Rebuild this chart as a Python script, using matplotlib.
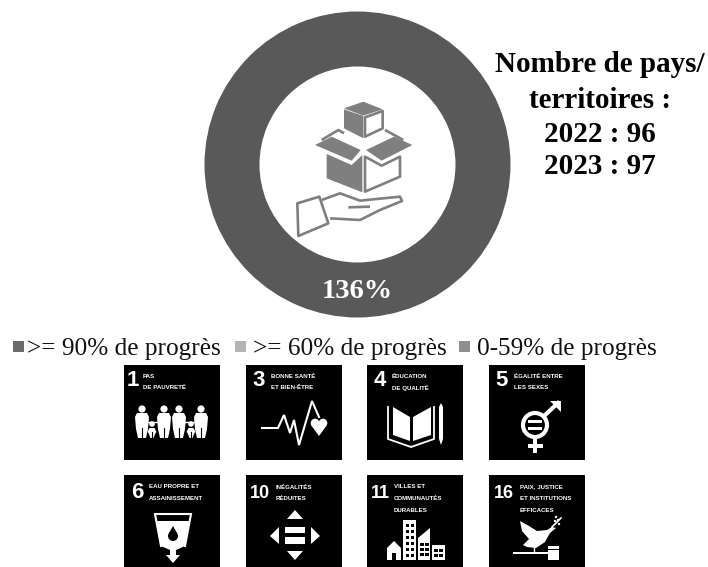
import matplotlib
matplotlib.use('Agg')
import matplotlib.pyplot as plt
from matplotlib.patches import Polygon, Rectangle, Circle

donut_values = [136]
donut_label = '136%'
side_lines = ['Nombre de pays/', 'territoires :', '2022 : 96', '2023 : 97']
legend_labels = ['>= 90% de progrès', '>= 60% de progrès', '0-59% de progrès']
legend_colors = ['#6b6b6b', '#b5b5b5', '#8f8f8f']
goal_numbers = ['1', '3', '4', '5', '6', '10', '11', '16']
goal_titles = [
    ['PAS', 'DE PAUVRETÉ'],
    ['BONNE SANTÉ', 'ET BIEN-ÊTRE'],
    ['ÉDUCATION', 'DE QUALITÉ'],
    ['ÉGALITÉ ENTRE', 'LES SEXES'],
    ['EAU PROPRE ET', 'ASSAINISSEMENT'],
    ['INÉGALITÉS', 'RÉDUITES'],
    ['VILLES ET', 'COMMUNAUTÉS', 'DURABLES'],
    ['PAIX, JUSTICE', 'ET INSTITUTIONS', 'EFFICACES'],
]

SERIF = 'Liberation Serif'
SANS = 'Liberation Sans'
DARK = '#595959'
ICON = '#7f7f7f'

fig = plt.figure(figsize=(7.08, 5.67), dpi=100)
ax = fig.add_axes([0, 0, 1, 1])


def z1(pts):
    return [(200 + x / 3, y / 3) for x, y in pts]


def shape(pts, fill=ICON):
    ax.add_patch(Polygon(z1(pts), closed=True, fc=fill, ec='none', zorder=4))


def outline(pts, closed=True):
    ax.add_patch(Polygon(z1(pts), closed=closed, fc='none', ec=ICON, lw=1.9, joinstyle='round', zorder=4))


def draw_box_icon():
    shape([(432, 325), (490, 305), (548, 328), (490, 347)])
    shape([(432, 328), (490, 348), (490, 415), (432, 385)])
    outline([(495, 352), (548, 333), (548, 385), (495, 410)])
    outline([(365, 420), (415, 390), (432, 400)], closed=False)
    outline([(555, 390), (610, 420)], closed=False)
    shape([(345, 435), (395, 410), (482, 450), (455, 482)])
    shape([(498, 450), (582, 410), (637, 435), (545, 482)])
    shape([(380, 462), (455, 495), (487, 465), (487, 577), (380, 535)])
    outline([(495, 470), (545, 497), (600, 470), (600, 530), (495, 575)])
    outline([(292, 610), (358, 590), (385, 670), (295, 708)])
    outline([(365, 600), (420, 580), (480, 602), (600, 590), (606, 603), (540, 630),
             (480, 660), (390, 655)], closed=False)
    outline([(445, 622), (510, 620)], closed=False)


def tile_poly(x0, y0, pts, fill='white', z=4):
    ax.add_patch(Polygon([(x0 + x, y0 + y) for x, y in pts], closed=True, fc=fill, ec='none', zorder=z))


def tile_rect(x0, y0, x, y, w, h, fill='white', z=4):
    ax.add_patch(Rectangle((x0 + x, y0 + y), w, h, fc=fill, ec='none', zorder=z))


def tile_line(x0, y0, pts, lw=1.5, color='white', z=4):
    ax.plot([x0 + x for x, y in pts], [y0 + y for x, y in pts], color=color, lw=lw, zorder=z,
            solid_joinstyle='miter')


def icon_people(x0, y0):
    for cx, head, w in [(18, 44, 14), (40, 44, 14), (55, 44, 14), (77, 44, 14), (28, 59, 9), (67, 59, 9)]:
        ax.add_patch(Circle((x0 + cx, y0 + head), 3.6 if w > 9 else 2.8, fc='white', ec='none', zorder=4))
        tile_poly(x0, y0, [(cx - w / 2 + 2, head + 4), (cx + w / 2 - 2, head + 4), (cx + w / 2, head + 8),
                           (cx + w / 2 - 1, 64 if w > 9 else 68), (cx + w / 2 - 3, 73), (cx - w / 2 + 3, 73),
                           (cx - w / 2 + 1, 64 if w > 9 else 68), (cx - w / 2, head + 8)])
        tile_line(x0, y0, [(cx, 63 if w > 9 else 67), (cx, 73)], lw=0.8, color='black', z=5)
    tile_line(x0, y0, [(23, 57), (35, 57)], lw=1)
    tile_line(x0, y0, [(60, 57), (72, 57)], lw=1)


def icon_health(x0, y0):
    tile_line(x0, y0, [(16, 63), (32, 63), (38, 50), (44, 68), (48, 55), (53, 80), (66, 36), (73, 52)], lw=1.5)
    ax.add_patch(Circle((x0 + 69, y0 + 58), 4.3, fc='white', ec='none', zorder=4))
    ax.add_patch(Circle((x0 + 77, y0 + 58), 4.3, fc='white', ec='none', zorder=4))
    tile_poly(x0, y0, [(65, 60), (81, 60), (73, 71)])


def icon_book(x0, y0):
    tile_poly(x0, y0, [(26, 42), (43, 52), (43, 76), (26, 70)])
    tile_poly(x0, y0, [(46, 52), (64, 42), (64, 70), (46, 76)])
    tile_line(x0, y0, [(21, 42), (21, 74), (44, 82), (67, 74), (67, 42)], lw=1.3)
    tile_poly(x0, y0, [(72, 42), (74, 38), (76, 42), (76, 74), (74, 80), (72, 74)])


def icon_gender(x0, y0):
    ax.add_patch(Circle((x0 + 46, y0 + 60), 12, fc='none', ec='white', lw=3, zorder=4))
    tile_rect(x0, y0, 39, 55, 14, 3)
    tile_rect(x0, y0, 39, 62, 14, 3)
    tile_rect(x0, y0, 44, 72, 4, 16)
    tile_rect(x0, y0, 39, 79, 15, 3.5)
    tile_line(x0, y0, [(55, 51), (69, 38)], lw=3)
    tile_poly(x0, y0, [(61, 36), (72, 36), (72, 47)])


def icon_water(x0, y0):
    tile_line(x0, y0, [(37, 71), (31, 39), (67, 39), (61, 71)], lw=1.5)
    tile_poly(x0, y0, [(33, 46), (65, 46), (61, 71), (52, 75), (52, 80), (56, 80), (49, 88), (42, 80),
                       (46, 80), (46, 75), (37, 71)])
    ax.add_patch(Circle((x0 + 49, y0 + 61), 5, fc='black', ec='none', zorder=5))
    tile_poly(x0, y0, [(49, 51), (53, 58), (45, 58)], fill='black', z=5)


def icon_arrows(x0, y0):
    tile_poly(x0, y0, [(49, 35), (41, 44), (57, 44)])
    tile_poly(x0, y0, [(49, 85), (41, 76), (57, 76)])
    tile_poly(x0, y0, [(24, 61), (33, 52), (33, 69)])
    tile_poly(x0, y0, [(74, 61), (65, 52), (65, 69)])
    tile_rect(x0, y0, 39, 52, 20, 6)
    tile_rect(x0, y0, 39, 62, 20, 7)


def icon_city(x0, y0):
    tile_rect(x0, y0, 36, 45, 13, 40)
    tile_poly(x0, y0, [(51, 63), (63, 53), (63, 85), (51, 85)])
    tile_rect(x0, y0, 65, 70, 13, 15)
    tile_poly(x0, y0, [(20, 73), (27, 66), (34, 73), (34, 85), (20, 85)])
    tile_rect(x0, y0, 25, 78, 4, 7, fill='black', z=5)
    for wy in [49, 55, 61, 67, 73, 79]:
        tile_rect(x0, y0, 39, wy, 3, 3, fill='black', z=5)
        tile_rect(x0, y0, 44, wy, 3, 3, fill='black', z=5)
    for wy in [68, 73, 78]:
        tile_rect(x0, y0, 53, wy, 3.5, 3, fill='black', z=5)
        tile_rect(x0, y0, 58, wy, 3.5, 3, fill='black', z=5)
    for wx in [67, 72]:
        tile_rect(x0, y0, wx, 74, 3.5, 3, fill='black', z=5)
        tile_rect(x0, y0, wx, 79, 3.5, 3, fill='black', z=5)


def icon_peace(x0, y0):
    tile_poly(x0, y0, [(31, 46), (40, 51), (48, 56), (58, 55), (63, 52), (67, 53), (61, 58), (56, 67), (47, 73),
                       (38, 72), (34, 70), (40, 64), (33, 56)])
    tile_line(x0, y0, [(63, 52), (72, 43)], lw=1.2)
    for lx, ly in [(66, 46), (69, 45), (70, 49), (67, 42)]:
        ax.add_patch(Circle((x0 + lx, y0 + ly), 1.2, fc='white', ec='none', zorder=4))
    tile_line(x0, y0, [(45, 72), (45, 77)], lw=1)
    tile_rect(x0, y0, 24, 76.5, 37, 2.5)
    tile_rect(x0, y0, 59, 71, 11, 14)
    tile_rect(x0, y0, 59, 74, 11, 0.8, fill='black', z=5)


icons = [icon_people, icon_health, icon_book, icon_gender, icon_water, icon_arrows, icon_city, icon_peace]
tile_x = [124, 246, 367, 489]
tile_y = [365, 475]
number_pos = [(9, 16), (13, 16), (13, 16), (13, 16), (13, 18), (14, 18), (13, 18), (15, 18)]
title_x = [19, 25, 25, 25, 25, 30, 27, 31]

# donut
ax.pie(donut_values, colors=[DARK], center=(357.5, 164.5), radius=153,
       wedgeprops={'width': 55, 'edgecolor': 'none'})
ax.text(357, 291, donut_label, color='white', fontsize=20.5, fontweight='bold', family=SERIF,
        ha='center', va='center')
draw_box_icon()

for line, y in zip(side_lines, [65, 100, 134, 167]):
    ax.text(600, y, line, fontsize=21, fontweight='bold', family=SERIF, color='black',
            ha='center', va='center')

# legend
for label, color, sx, tx in zip(legend_labels, legend_colors, [13, 235, 459], [27, 253, 477]):
    ax.add_patch(Rectangle((sx, 341), 11, 11, fc=color, ec='none'))
    ax.text(tx, 354.5, label, fontsize=18.2, family=SERIF, color='#111111', ha='left', va='baseline')

# goal tiles
for i, (num, title, icon) in enumerate(zip(goal_numbers, goal_titles, icons)):
    x0 = tile_x[i % 4]
    y0 = tile_y[i // 4]
    ax.add_patch(Rectangle((x0, y0), 96, 95, fc='black', ec='none', zorder=2))
    nx, ny = number_pos[i]
    ax.text(x0 + nx, y0 + ny, num, color='white', fontsize=16 if len(num) == 1 else 13, fontweight='bold',
            family=SANS, ha='center', va='center', zorder=4)
    for j, line in enumerate(title):
        ax.text(x0 + title_x[i], y0 + (11 if i < 4 else 12) + j * 11.5, line, color='white', fontsize=4.4,
                fontweight='bold', family=SANS, ha='left', va='center', zorder=4)
    icon(x0, y0)

ax.set_xlim(0, 708)
ax.set_ylim(567, 0)
ax.set_aspect('auto')
ax.axis('off')

fig.savefig('out.png', dpi=100, facecolor='white')
